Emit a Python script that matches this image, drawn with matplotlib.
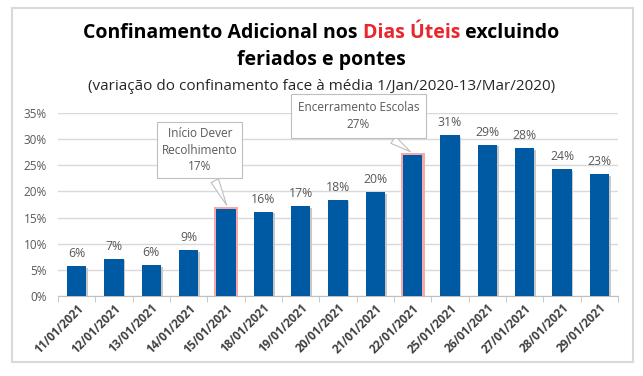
import numpy as np
import matplotlib
matplotlib.use('Agg')
import matplotlib.pyplot as plt
from matplotlib.patches import Rectangle
from matplotlib.ticker import PercentFormatter

dates = ['11/01/2021', '12/01/2021', '13/01/2021', '14/01/2021', '15/01/2021',
         '18/01/2021', '19/01/2021', '20/01/2021', '21/01/2021', '22/01/2021',
         '25/01/2021', '26/01/2021', '27/01/2021', '28/01/2021', '29/01/2021']
values = [5.7, 7.1, 5.9, 8.8, 16.6, 16.1, 17.2, 18.4, 19.9, 27.0,
          30.8, 28.9, 28.3, 24.3, 23.3]
labels = ['6%', '7%', '6%', '9%', '17%', '16%', '17%', '18%', '20%', '27%',
          '31%', '29%', '28%', '24%', '23%']
callouts = {4: 'Início Dever\nRecolhimento\n17%', 9: 'Encerramento Escolas\n27%'}

plt.rcParams['font.family'] = ['Open Sans', 'DejaVu Sans']

fig = plt.figure(figsize=(6.43, 3.76), dpi=100)
fig.patch.set_facecolor('white')

# outer frame
fig.add_artist(Rectangle((12 / 643, 1 - 362 / 376), 621 / 643, 354 / 376,
                         transform=fig.transFigure, fill=False,
                         edgecolor='#d9d9d9', linewidth=1.5))

ax = fig.add_axes([58 / 643, 1 - 296 / 376, 560 / 643, 183 / 376])
x = np.arange(len(values))
bar_color = '#0059a3'
# soft shadow
ax.bar(x + 0.04, np.array(values) - 0.3, width=0.52, bottom=0, color='#c8c8c8', zorder=2)
ax.bar(x, values, width=0.52, color=bar_color, zorder=4)
for i in callouts:
    ax.bar(x[i], values[i] + 0.4, width=0.64, color='#f7a8a8', zorder=3)

ax.set_ylim(0, 35)
ax.set_xlim(-0.5, len(values) - 0.5)
ax.set_yticks(np.arange(0, 36, 5))
ax.yaxis.set_major_formatter(PercentFormatter(decimals=0))
ax.grid(axis='y', color='#d9d9d9', linewidth=1, zorder=0)
for s in ['top', 'right', 'left']:
    ax.spines[s].set_visible(False)
ax.spines['bottom'].set_color('#bfbfbf')
ax.tick_params(axis='y', length=0, labelsize=8.5, labelcolor='#595959', pad=8)
ax.set_xticks(x)
ax.set_xticklabels(dates, rotation=45, ha='right', rotation_mode='anchor',
                   fontsize=8.5, fontweight='bold', color='#404040')
ax.tick_params(axis='x', length=0, pad=4)
ax.set_xticks(np.arange(-0.5, len(values), 1), minor=True)
ax.tick_params(axis='x', which='minor', length=4, color='#bfbfbf')

for i, (v, lab) in enumerate(zip(values, labels)):
    if i in callouts:
        continue
    ax.text(i, v + 1.2, lab, ha='center', va='bottom', fontsize=8.8, color='#595959')

# callout boxes
ax.annotate(callouts[4], xy=(4.05, values[4] + 0.3), xytext=(3.3, 27.9),
            ha='center', va='center', fontsize=8.5, color='#595959', linespacing=1.35,
            bbox=dict(boxstyle='square,pad=0.4', fc='white', ec='#bfbfbf', lw=0.8),
            arrowprops=dict(arrowstyle='wedge,tail_width=0.7', fc='white', ec='#bfbfbf', lw=0.8),
            zorder=6, annotation_clip=False)
ax.annotate(callouts[9], xy=(9.0, values[9] + 0.3), xytext=(7.55, 34.4),
            ha='center', va='center', fontsize=8.5, color='#595959', linespacing=1.35,
            bbox=dict(boxstyle='square,pad=0.6', fc='white', ec='#bfbfbf', lw=0.8),
            arrowprops=dict(arrowstyle='wedge,tail_width=0.7', fc='white', ec='#bfbfbf', lw=0.8),
            zorder=6, annotation_clip=False)

# title with coloured part
parts = [('Confinamento Adicional nos ', 'black'), ('Dias Úteis', '#e8262c'), (' excluindo', 'black')]
fig.canvas.draw()
r = fig.canvas.get_renderer()
texts = []
for t, c in parts:
    texts.append(fig.text(0, 1 - 33 / 376, t, fontsize=14, fontweight='bold', color=c,
                          va='center', ha='left'))
widths = [tx.get_window_extent(r).width for tx in texts]
start = (643 - sum(widths)) / 2
for tx, w in zip(texts, widths):
    tx.set_x(start / 643)
    start += w
fig.text(0.5, 1 - 60 / 376, 'feriados e pontes', fontsize=14, fontweight='bold',
         ha='center', va='center')
fig.text(0.5, 1 - 86 / 376, '(variação do confinamento face à média 1/Jan/2020-13/Mar/2020)',
         fontsize=11, ha='center', va='center', color='#262626')

fig.savefig('out.png', dpi=100)
